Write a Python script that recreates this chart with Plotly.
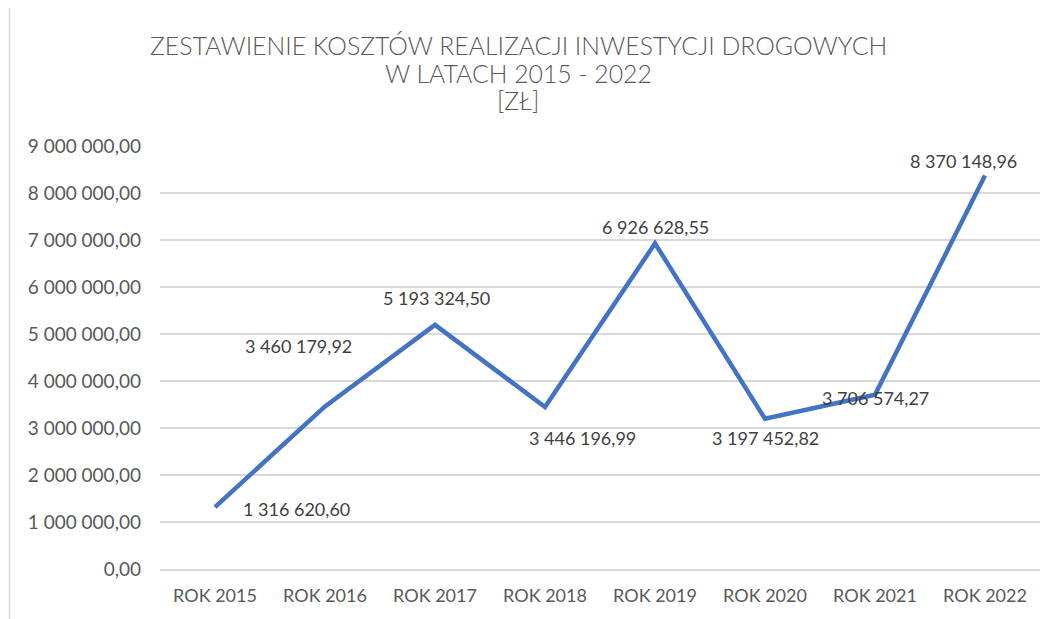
import plotly.graph_objects as go

categories = ["ROK 2015", "ROK 2016", "ROK 2017", "ROK 2018", "ROK 2019", "ROK 2020", "ROK 2021", "ROK 2022"]
values = [1316620.60, 3460179.92, 5193324.50, 3446196.99, 6926628.55, 3197452.82, 3706574.27, 8370148.96]
tick_vals = [0, 1e6, 2e6, 3e6, 4e6, 5e6, 6e6, 7e6, 8e6, 9e6]
title_lines = ["ZESTAWIENIE KOSZTÓW REALIZACJI INWESTYCJI DROGOWYCH", "W LATACH 2015 - 2022", "[ZŁ]"]

# label offsets in pixels (xshift, yshift)
label_offsets = [(81, -2), (-27, 60), (1, 27), (37, -31), (0, 16), (0, -19), (0, -3), (-22, 15)]
# title line centres (page pixel y)
title_y_px = [45, 73, 101]

def fmt(v):
    s = f"{v:,.2f}"
    return s.replace(",", " ").replace(".", ",")

font_family = "Lato, 'Open Sans', sans-serif"
title_family = "'Lato Light', Lato, sans-serif"
gray = "#595959"

plot_top, plot_bottom = 146, 569

fig = go.Figure()
fig.add_trace(go.Scatter(
    x=categories, y=values, mode="lines",
    line=dict(color="#4472C4", width=4.5),
    hoverinfo="skip", showlegend=False,
))

for c, v, (dx, dy) in zip(categories, values, label_offsets):
    fig.add_annotation(x=c, y=v, text=fmt(v), showarrow=False,
                       xshift=dx, yshift=dy,
                       font=dict(family=font_family, size=18, color="#404040"))

for line, ypx in zip(title_lines, title_y_px):
    fig.add_annotation(xref="paper", yref="paper", x=(518 - 160) / 880, xanchor="center",
                       y=(plot_bottom - ypx) / (plot_bottom - plot_top), yanchor="middle",
                       text=line, showarrow=False,
                       font=dict(family=title_family, size=24.8, color=gray))

fig.add_shape(type="line", xref="paper", yref="paper", x0=-0.171, x1=-0.171, y0=-0.12, y1=1.35,
              line=dict(color="#d9d9d9", width=1.5))

fig.update_layout(
    width=1061, height=619,
    margin=dict(l=152, r=29, t=138, b=58),
    paper_bgcolor="white", plot_bgcolor="white",
    separators=", ",
    xaxis=dict(
        type="category", showgrid=False, showline=True, linecolor="#d9d9d9", linewidth=1.5,
        ticks="", tickfont=dict(family=font_family, size=18, color=gray),
        range=[-0.5, 7.5], fixedrange=True, ticklabelstandoff=10,
    ),
    yaxis=dict(
        range=[0, 9e6], tickvals=tick_vals, tickformat=",.2f",
        showgrid=True, gridcolor="#d9d9d9", gridwidth=1.5, zeroline=False,
        ticks="", ticklen=0, tickfont=dict(family=font_family, size=19, color=gray),
        ticklabelstandoff=18,
    ),
)

fig.write_html("out.html")
